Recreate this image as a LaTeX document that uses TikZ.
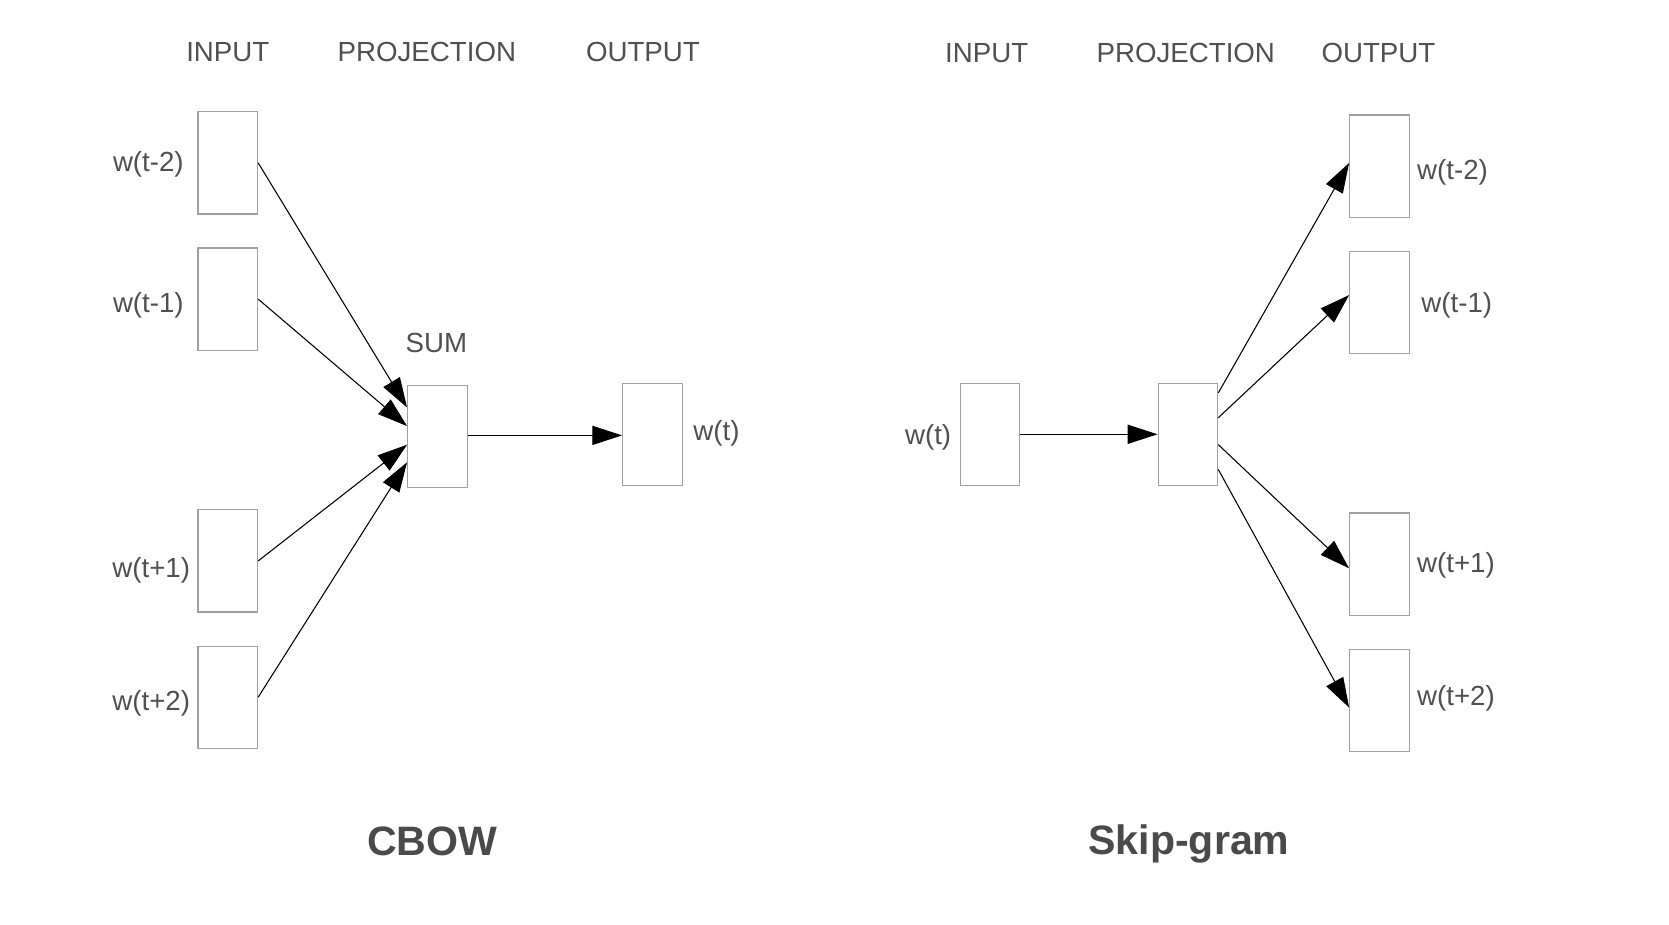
\documentclass[tikz,border=0pt]{standalone}
\usepackage{fontspec}
\setmainfont{Liberation Sans}
\usetikzlibrary{arrows.meta,calc}
\definecolor{boxgray}{HTML}{A0A0A0}
\definecolor{txtgray}{HTML}{505050}
\definecolor{titlegray}{HTML}{4A4A4A}
\tikzset{
  wbox/.style={draw=boxgray, line width=0.55pt, rectangle, minimum width=28pt, minimum height=48pt, inner sep=0pt},
  lbl/.style={text=txtgray, font=\fontsize{13pt}{15pt}\selectfont, inner sep=0pt},
  ttl/.style={text=titlegray, font=\fontsize{19.3pt}{22pt}\selectfont\bfseries, inner sep=0pt},
  conn/.style={draw=black, line width=0.5pt, -{Triangle[length=14pt,width=9pt]}}
}
\begin{document}
\begin{tikzpicture}[x=0.5pt,y=-0.5pt]
\useasboundingbox (0,0) rectangle (1568,869);
% ---------- CBOW ----------
\node[lbl] (h1) at (214,49) {INPUT};
\node[lbl] (h2) at (401,49) {PROJECTION};
\node[lbl] (h3) at (604,49) {OUTPUT};

\node[wbox] (ci1) at (214,153) {};
\node[wbox] (ci2) at (214,281) {};
\node[wbox] (ci3) at (214,527) {};
\node[wbox] (ci4) at (214,655) {};
\node[lbl, anchor=east] (cl1) at (173,154) {w(t-2)};
\node[lbl, anchor=east] (cl2) at (173,287) {w(t-1)};
\node[lbl, anchor=east] (cl3) at (179,536) {w(t+1)};
\node[lbl, anchor=east] (cl4) at (179,661) {w(t+2)};

\node[wbox] (sum) at (411,410) {};
\node[lbl] (sumlbl) at (410,322) {SUM};
\node[wbox] (cout) at (613,408) {};
\node[lbl, anchor=west] (coutl) at (651,407) {w(t)};

\coordinate (s1) at ($(sum.north west)!0.22!(sum.south west)$);
\coordinate (s2) at ($(sum.north west)!0.40!(sum.south west)$);
\coordinate (s3) at ($(sum.north west)!0.58!(sum.south west)$);
\coordinate (s4) at ($(sum.north west)!0.75!(sum.south west)$);
\coordinate (c0) at ($(sum.north east)!0.49!(sum.south east)$);
\draw[conn] (ci1.east) -- (s1);
\draw[conn] (ci2.east) -- (s2);
\draw[conn] (ci3.east) -- (s3);
\draw[conn] (ci4.east) -- (s4);
\draw[conn] (c0) -- (c0 -| cout.west);

\node[ttl] (t1) at (406,790) {CBOW};

% ---------- Skip-gram ----------
\node[lbl] (g1) at (927,50) {INPUT};
\node[lbl] (g2) at (1114,50) {PROJECTION};
\node[lbl] (g3) at (1295,50) {OUTPUT};

\node[wbox] (sin) at (930,408) {};
\node[lbl, anchor=east] (sinl) at (894,411) {w(t)};
\node[wbox] (proj) at (1116,408) {};

\node[wbox] (so1) at (1296,156) {};
\node[wbox] (so2) at (1296,284) {};
\node[wbox] (so3) at (1296,530) {};
\node[wbox] (so4) at (1296,658) {};
\node[lbl, anchor=west] (sl1) at (1331,162) {w(t-2)};
\node[lbl, anchor=west] (sl2) at (1335,287) {w(t-1)};
\node[lbl, anchor=west] (sl3) at (1331,531) {w(t+1)};
\node[lbl, anchor=west] (sl4) at (1331,656) {w(t+2)};

\coordinate (p1) at ($(proj.north east)!0.10!(proj.south east)$);
\coordinate (p2) at ($(proj.north east)!0.34!(proj.south east)$);
\coordinate (p3) at ($(proj.north east)!0.60!(proj.south east)$);
\coordinate (p4) at ($(proj.north east)!0.84!(proj.south east)$);
\coordinate (q1) at ($(so1.north west)!0.47!(so1.south west)$);
\coordinate (q2) at ($(so2.north west)!0.43!(so2.south west)$);
\coordinate (q3) at ($(so3.north west)!0.54!(so3.south west)$);
\coordinate (q4) at ($(so4.north west)!0.57!(so4.south west)$);
\draw[conn] (sin.east) -- (proj.west);
\draw[conn] (p1) -- (q1);
\draw[conn] (p2) -- (q2);
\draw[conn] (p3) -- (q3);
\draw[conn] (p4) -- (q4);

\node[ttl] (t2) at (1117,793) {Skip-gram};
\end{tikzpicture}
\end{document}
